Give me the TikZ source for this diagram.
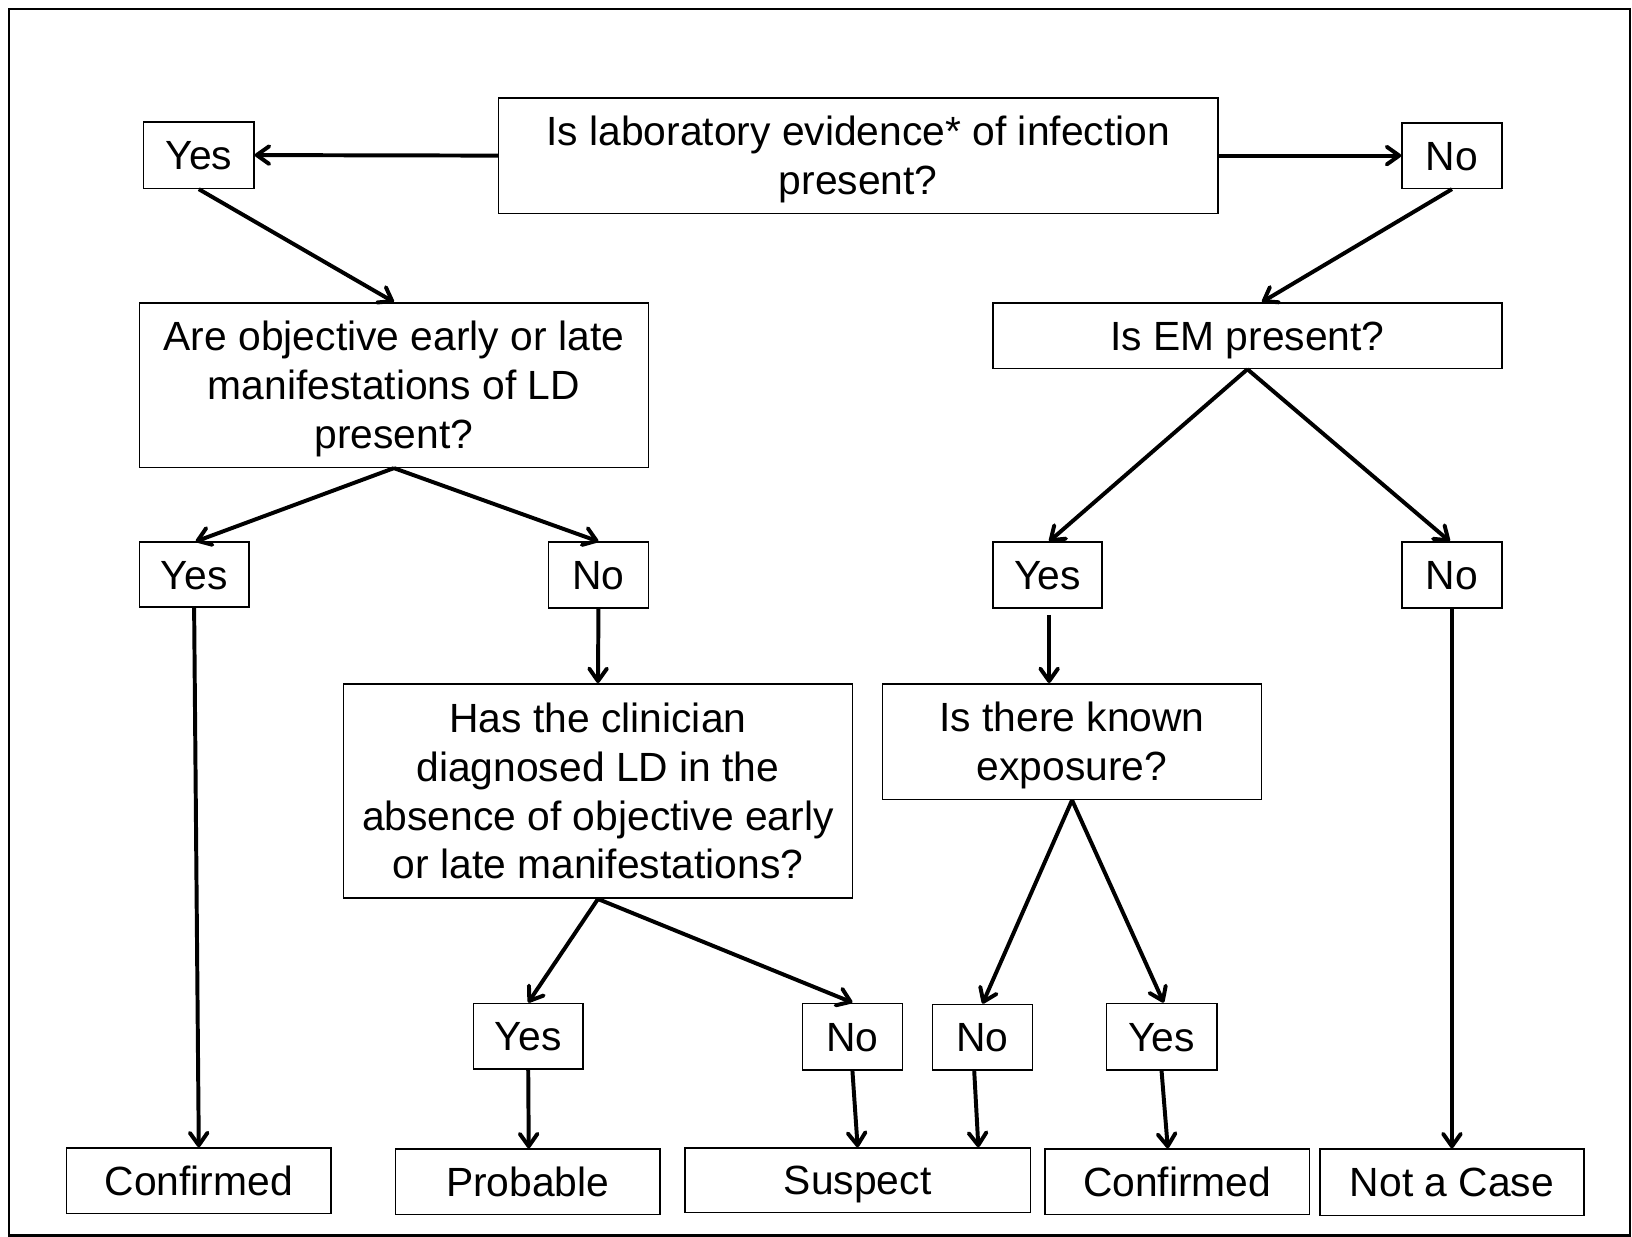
\documentclass[tikz,border=0pt]{standalone}
\usepackage{fontspec}
\setmainfont{Liberation Sans}
\usetikzlibrary{arrows.meta}
\newcommand{\fsz}{\fontsize{19.6pt}{23.5pt}\selectfont}
\newcommand{\nodp}[1]{\raisebox{0pt}[\height][0pt]{#1}}
\tikzset{
  box/.style={draw, line width=0.75pt, inner sep=0pt, align=center, font=\fsz},
  one/.style={box, text height=18.5pt, text depth=4.5pt},
  conn/.style={line width=1.9pt, -{Straight Barb[length=6pt,width=8.5pt,line width=1.9pt,round]}},
}
\begin{document}
\begin{tikzpicture}[x={(0.5pt,0)}, y={(0,-0.5pt)}]
\useasboundingbox (0,0) rectangle (1568,1188);
\draw[line width=1pt] (9,9) rectangle (1566,1187);

\node[box, minimum width=345.5pt, minimum height=55.5pt] (Q1) at (824.5,149.5) {Is laboratory evidence* of infection\\\nodp{present?}};
\node[one, minimum width=53pt, minimum height=32pt] (Y1) at (191,149) {Yes};
\node[one, minimum width=48pt, minimum height=31.5pt] (N1) at (1395,149.5) {No};

\node[box, minimum width=244.5pt, minimum height=79pt] (Q2) at (378.5,370) {Are objective early or late\\manifestations of LD\\\nodp{present?}};
\node[one, minimum width=244.5pt, minimum height=31.5pt] (Q3) at (1198.5,322.5) {Is EM present?};

\node[one, minimum width=52.5pt, minimum height=31pt] (Y2) at (186.5,552) {Yes};
\node[one, minimum width=48pt, minimum height=31.5pt] (N2) at (575,552.5) {No};
\node[one, minimum width=52.5pt, minimum height=31.5pt] (Y3) at (1006.5,552.5) {Yes};
\node[one, minimum width=48pt, minimum height=31.5pt] (N3) at (1395,552.5) {No};

\node[box, minimum width=244.5pt, minimum height=103pt] (Q4) at (574.5,760) {Has the clinician\\diagnosed LD in the\\absence of objective early\\or late manifestations?};
\node[box, minimum width=182pt, minimum height=55.5pt] (Q5) at (1030,712.5) {Is there known\\\nodp{exposure?}};

\node[one, minimum width=52.5pt, minimum height=31.5pt] (Y4) at (507.5,995.5) {Yes};
\node[one, minimum width=48pt, minimum height=32pt] (N4) at (819,996) {No};
\node[one, minimum width=48pt, minimum height=31.5pt] (N5) at (944,996.5) {No};
\node[one, minimum width=53pt, minimum height=32pt] (Y5) at (1116,996) {Yes};

\node[one, minimum width=127pt, minimum height=31.5pt] (C1) at (191,1134.5) {Confirmed};
\node[one, minimum width=127pt, minimum height=31.5pt] (P) at (507,1135.5) {Probable};
\node[one, minimum width=166pt, minimum height=31pt] (S) at (824,1134) {Suspect};
\node[one, minimum width=127pt, minimum height=31.5pt] (C2) at (1131,1135.5) {Confirmed};
\node[one, minimum width=127pt, minimum height=32pt] (NC) at (1395,1136) {Not a Case};

\draw[conn] (Q1.west) -- (Y1.east);
\draw[conn] (Q1.east) -- (N1.west);
\draw[conn] (Y1.south) -- (Q2.north);
\draw[conn] (N1.south) -- ([xshift=7pt]Q3.north);
\draw[conn] (Q2.south) -- ([xshift=0.75pt]Y2.north);
\draw[conn] (Q2.south) -- (N2.north);
\draw[conn] (N2.south) -- (Q4.north);
\draw[conn] (Q3.south) -- ([xshift=0.75pt]Y3.north);
\draw[conn] (Q3.south) -- ([xshift=-1pt]N3.north);
\draw[conn] ([yshift=-3pt,xshift=0.75pt]Y3.south) -- ([xshift=0.75pt]Y3.south |- Q5.north);
\draw[conn] (Q5.south) -- (N5.north);
\draw[conn] (Q5.south) -- ([xshift=1pt]Y5.north);
\draw[conn] (Q4.south) -- (Y4.north);
\draw[conn] (Q4.south) -- (N4.north);
\draw[conn] (Y2.south) -- (C1.north);
\draw[conn] (Y4.south) -- ([xshift=0.5pt]P.north);
\draw[conn] (N4.south) -- (S.north);
\draw[conn] ([xshift=-4pt]N5.south) -- ([xshift=58pt]S.north);
\draw[conn] (Y5.south) -- ([xshift=-4.5pt]C2.north);
\draw[conn] (N3.south) -- (NC.north);
\end{tikzpicture}
\end{document}
